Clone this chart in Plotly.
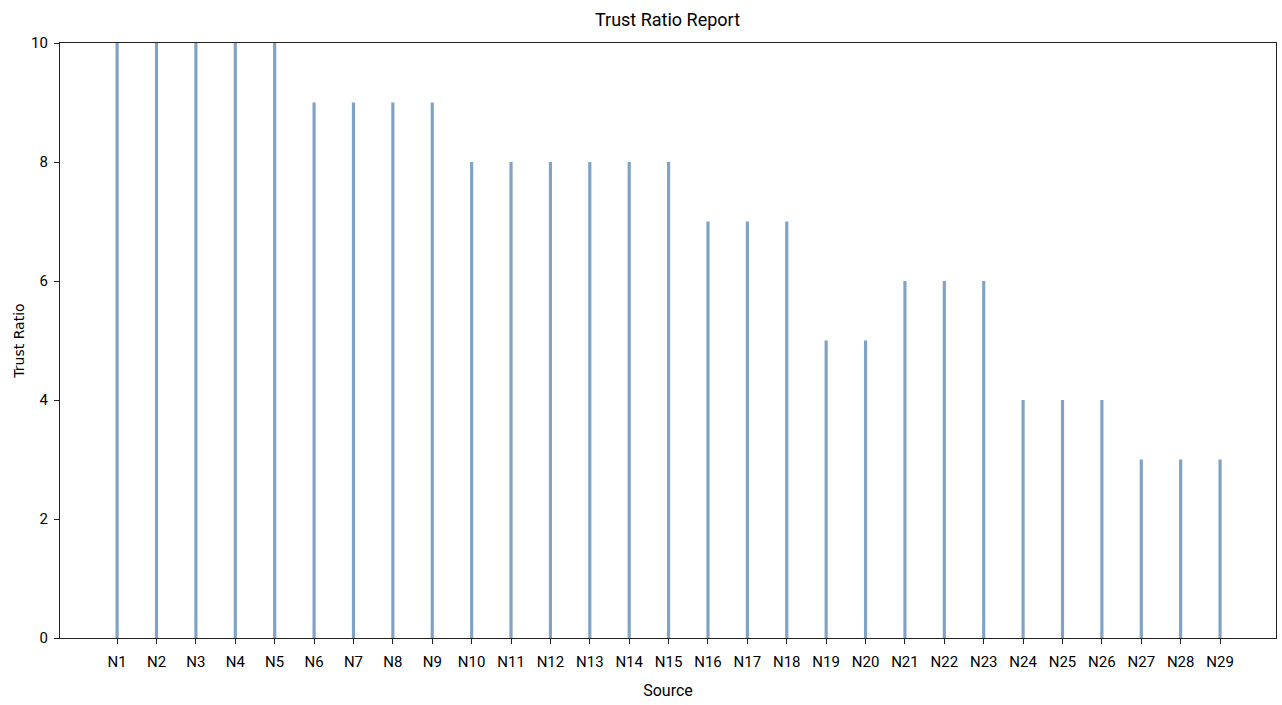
import plotly.graph_objects as go

sources = [f"N{i}" for i in range(1, 30)]
trust_ratio = [10, 10, 10, 10, 10, 9, 9, 9, 9, 8, 8, 8, 8, 8, 8, 7, 7, 7, 5, 5, 6, 6, 6, 4, 4, 4, 3, 3, 3]
y_ticks = [0, 2, 4, 6, 8, 10]

font_main = "Roboto, Liberation Sans Narrow, DejaVu Sans, sans-serif"

fig = go.Figure(go.Bar(
    x=list(range(len(sources))),
    y=trust_ratio,
    width=0.08,
    marker=dict(color="#7fa2c6", line=dict(width=0)),
))

fig.update_layout(
    width=1282, height=705,
    margin=dict(l=60, r=6, t=43, b=67),
    paper_bgcolor="white", plot_bgcolor="white",
    title=dict(text="Trust Ratio Report", x=(593 + 742) / 2 / 1282, xanchor="center",
               y=1 - 20 / 705, yanchor="middle",
               font=dict(family=font_main, size=18, color="black")),
    showlegend=False,
    font=dict(family=font_main, size=15, color="black"),
)
fig.update_xaxes(
    tickmode="array", tickvals=list(range(len(sources))), ticktext=sources,
    range=[-1.45, 29.42], showline=True, linecolor="#222", linewidth=1.3, mirror=True,
    ticks="outside", ticklen=5, tickcolor="#222", showgrid=False, zeroline=False,
    tickfont=dict(family=font_main, size=15), ticklabelstandoff=5,
    title=dict(text="Source", font=dict(family=font_main, size=16), standoff=14),
)
fig.update_yaxes(
    tickmode="array", tickvals=y_ticks, range=[0, 10],
    showline=True, linecolor="#222", linewidth=1.3, mirror=True,
    ticks="outside", ticklen=5, tickcolor="#222", showgrid=False, zeroline=False,
    tickfont=dict(family=font_main, size=15), ticklabelstandoff=3,
    title=dict(text="Trust Ratio", font=dict(family="DejaVu Sans", size=14), standoff=3),
)

fig.write_html("out.html", config={"displayModeBar": False},
               post_script="document.body.style.margin='0';document.body.style.overflow='hidden';")
